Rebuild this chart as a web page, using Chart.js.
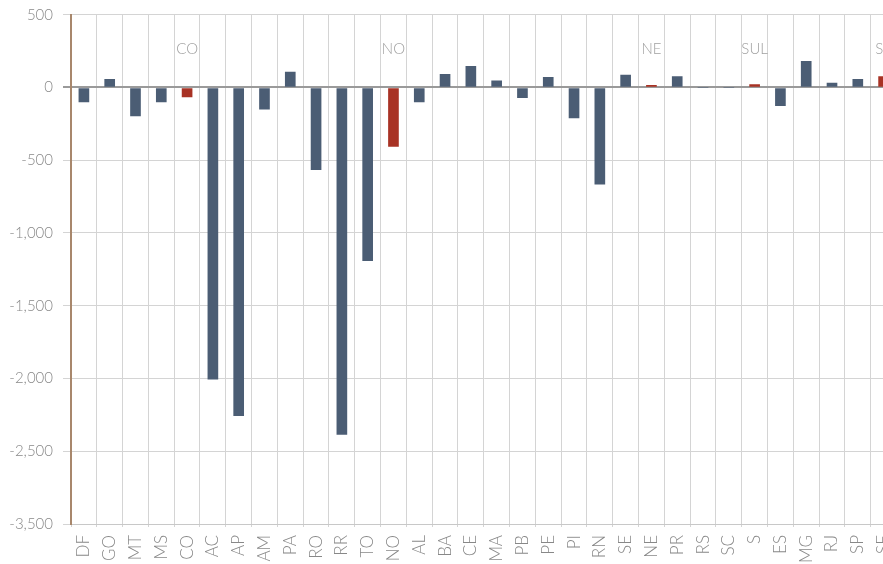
<!DOCTYPE html>
<html><head><meta charset="utf-8">
<script src="https://cdn.jsdelivr.net/npm/chart.js@4"></script>
<style>
html,body{margin:0;padding:0;overflow:hidden;background:#fff;width:883px;height:564px}
#wrap{position:absolute;left:0;top:0;width:912px;height:564px}
</style></head><body>
<div id="wrap"><canvas id="c" width="912" height="564"></canvas></div>
<script>
const categories = ['DF','GO','MT','MS','CO','AC','AP','AM','PA','RO','RR','TO','NO','AL','BA','CE','MA','PB','PE','PI','RN','SE','NE','PR','RS','SC','S','ES','MG','RJ','SP','SE'];
const values = [-100,55,-195,-100,-65,-2005,-2255,-150,105,-565,-2385,-1190,-405,-100,90,145,45,-70,70,-210,-665,85,15,75,0,0,20,-125,180,30,55,75];
const regionIndex = [4,12,22,26,31];
const regionNames = ['CO','NO','NE','SUL','SE'];
const yTickValues = [500,0,-500,-1000,-1500,-2000,-2500,-3000];
const yTickLabels = ['500','0','-500','-1,000','-1,500','-2,000','-2,500','-3,500'];

const barColors = categories.map((c,i)=> regionIndex.includes(i) ? '#a83224' : '#4b5d74');

const regionLabelPlugin = {
  id:'regionLabels',
  afterDatasetsDraw(chart){
    const {ctx, scales:{x,y}} = chart;
    ctx.save();
    ctx.fillStyle = '#a0a0a0';
    ctx.font = '300 15px Lato, sans-serif';
    ctx.textAlign = 'center';
    ctx.textBaseline = 'middle';
    regionIndex.forEach((idx,k)=>{
      ctx.fillText(regionNames[k], x.getPixelForValue(idx), y.getPixelForValue(262));
    });
    ctx.restore();
  }
};

new Chart(document.getElementById('c'), {
  type:'bar',
  data:{labels:categories, datasets:[{data:values, backgroundColor:barColors, barThickness:10}]},
  options:{
    responsive:false, animation:false,
    layout:{padding:{top:14.7,right:0,left:0,bottom:0}},
    plugins:{legend:{display:false}, tooltip:{enabled:false}},
    scales:{
      x:{
        grid:{color:'#d4d4d4', tickLength:3, offset:true},
        border:{color:'#c8c8c8'},
        ticks:{autoSkip:false, minRotation:90, maxRotation:90, color:'#888', padding:8,
               font:{family:'Lato', size:17, weight:300}},
        afterFit(s){ s.height = 40; }
      },
      y:{
        min:-3000, max:500,
        afterBuildTicks(s){ s.ticks = yTickValues.slice().reverse().map(v=>({value:v})); },
        grid:{
          color:(c)=> c.tick && c.tick.value===0 ? '#9a9a9a' : '#d4d4d4',
          lineWidth:(c)=> c.tick && c.tick.value===0 ? 2 : 1,
          tickLength:8
        },
        border:{color:'#a8876c', width:2},
        ticks:{color:'#888', padding:10, font:{family:'Lato', size:15, weight:300},
               callback:(v)=> yTickLabels[yTickValues.indexOf(v)]},
        afterFit(s){ s.width = 71; s.paddingTop = 0; s.paddingBottom = 0; }
      }
    }
  },
  plugins:[regionLabelPlugin]
});
</script></body></html>
